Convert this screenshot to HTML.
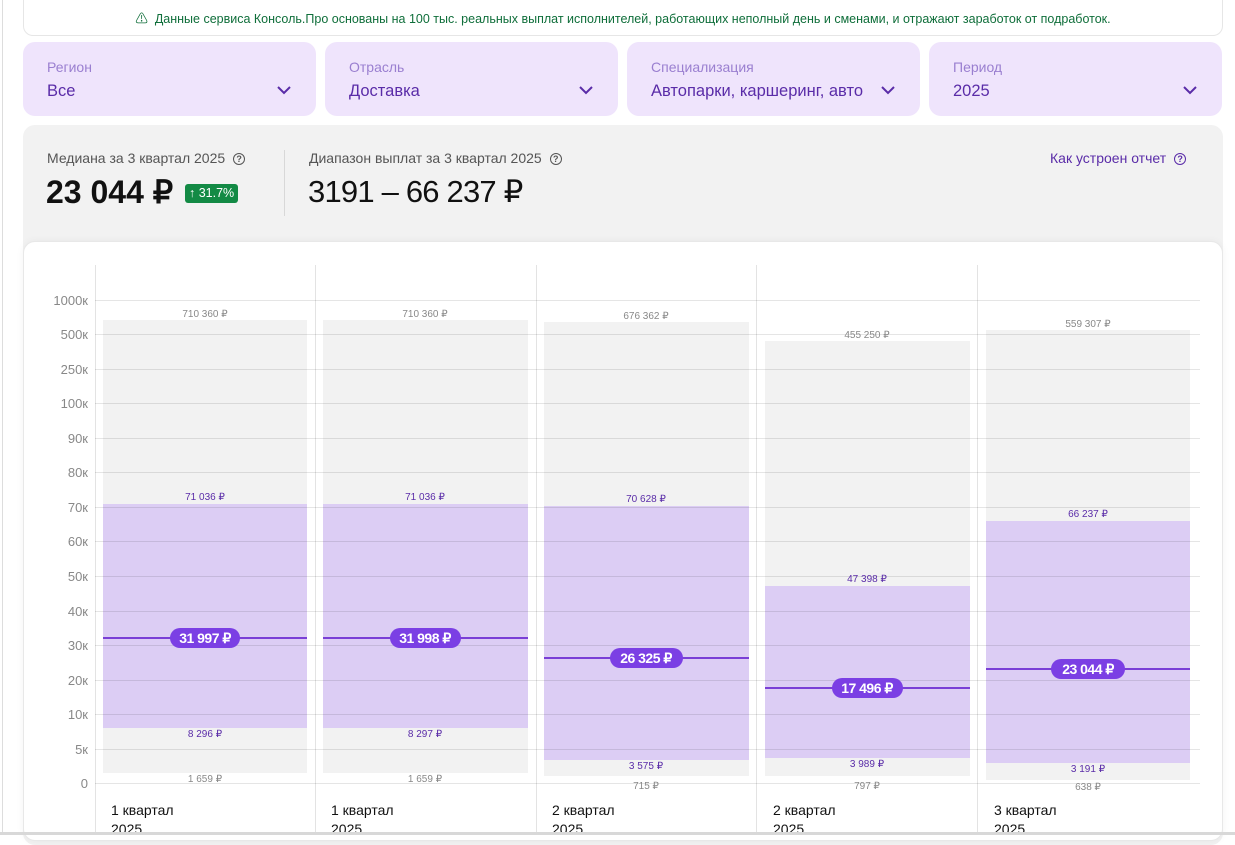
<!DOCTYPE html>
<html><head><meta charset="utf-8"><style>
*{margin:0;padding:0;box-sizing:border-box}
body{width:1235px;height:835px;background:#fff;font-family:"Liberation Sans","Noto Sans CJK SC",sans-serif;position:relative;overflow:hidden}
.a{position:absolute}
.banner{left:23px;top:0;width:1200px;height:36px;border:1px solid #e6e6e6;border-top:none;border-radius:0 0 10px 10px;color:#0f6e3a;font-size:12.5px;text-align:center;line-height:38px}
.f{top:42px;height:74px;width:293px;background:#efe4fc;border-radius:12px}
.f .l{position:absolute;left:24px;top:17px;font-size:14px;color:#9a7fd0}
.f .v{position:absolute;left:24px;top:40px;font-size:16.5px;color:#5a2ca8;white-space:nowrap;overflow:hidden;width:215px}
.f svg{position:absolute;right:24px;top:43px}
.gray{left:23px;top:125px;width:1200px;height:720px;background:#f2f2f2;border-radius:12px}
.card{left:23px;top:241px;width:1200px;height:600px;background:#fff;border-radius:12px;border:1px solid #e8e8e8;box-shadow:0 0 8px rgba(0,0,0,.05)}
.q{display:inline-block;width:12px;height:12px;border:1.3px solid #555;border-radius:50%;font-size:9px;line-height:10px;text-align:center;vertical-align:1px;margin-left:8px;color:#555;font-weight:bold}
</style></head><body>
<div class="a" style="left:2px;top:0;width:1px;height:835px;background:#ddd"></div>
<div class="a banner">⚠&nbsp; Данные сервиса Консоль.Про основаны на 100 тыс. реальных выплат исполнителей, работающих неполный день и сменами, и отражают заработок от подработок.</div>
<div class="a f" style="left:23px"><div class="l">Регион</div><div class="v">Все</div><svg width="16" height="10"><path d="M2 2l6 6 6-6" stroke="#5a2ca8" stroke-width="2" fill="none"/></svg></div>
<div class="a f" style="left:325px"><div class="l">Отрасль</div><div class="v">Доставка</div><svg width="16" height="10"><path d="M2 2l6 6 6-6" stroke="#5a2ca8" stroke-width="2" fill="none"/></svg></div>
<div class="a f" style="left:627px"><div class="l">Специализация</div><div class="v">Автопарки, каршеринг, авто</div><svg width="16" height="10"><path d="M2 2l6 6 6-6" stroke="#5a2ca8" stroke-width="2" fill="none"/></svg></div>
<div class="a f" style="left:929px"><div class="l">Период</div><div class="v">2025</div><svg width="16" height="10"><path d="M2 2l6 6 6-6" stroke="#5a2ca8" stroke-width="2" fill="none"/></svg></div>
<div class="a gray"></div>
<div class="a" style="left:47px;top:150px;font-size:14px;color:#555">Медиана за 3 квартал 2025<span class="q">?</span></div>
<div class="a" style="left:46px;top:173px;font-size:32px;font-weight:bold;color:#111;letter-spacing:0px">23 044 ₽</div>
<div class="a" style="left:185px;top:184px;background:#138a45;color:#fff;font-size:12.5px;padding:1px 4px;border-radius:3px;height:19px;line-height:17px">↑ 31.7%</div>
<div class="a" style="left:284px;top:150px;width:1px;height:66px;background:#d8d8d8"></div>
<div class="a" style="left:309px;top:150px;font-size:14px;color:#555">Диапазон выплат за 3 квартал 2025<span class="q">?</span></div>
<div class="a" style="left:308px;top:174px;font-size:31px;color:#111;letter-spacing:-0.8px">3191 – 66 237 ₽</div>
<div class="a" style="left:1050px;top:150px;font-size:14px;color:#5a2ca8">Как устроен отчет<span class="q" style="border-color:#5a2ca8;color:#5a2ca8">?</span></div>
<div class="a card"></div>
<svg class="a" style="left:0;top:0" width="1235" height="835" font-family="Liberation Sans, sans-serif">
<g stroke="#e3e3e3" stroke-width="1">
<line x1="95.5" y1="265" x2="95.5" y2="835"/><line x1="315.5" y1="265" x2="315.5" y2="835"/><line x1="536.5" y1="265" x2="536.5" y2="835"/><line x1="756.5" y1="265" x2="756.5" y2="835"/><line x1="977.5" y1="265" x2="977.5" y2="835"/>
</g>
<g fill="#f2f2f2">
<rect x="103" y="320" width="204" height="453"/><rect x="323" y="320" width="205" height="453"/><rect x="544" y="322" width="205" height="454"/><rect x="765" y="341" width="205" height="435"/><rect x="986" y="330" width="204" height="450"/>
</g>
<g fill="#dccdf4">
<rect x="103" y="504" width="204" height="224"/><rect x="323" y="504" width="205" height="224"/><rect x="544" y="506" width="205" height="254"/><rect x="765" y="586" width="205" height="172"/><rect x="986" y="521" width="204" height="242"/>
</g>
<g stroke="#000" stroke-opacity="0.1" stroke-width="1">
<line x1="95" y1="300.5" x2="1200" y2="300.5"/><line x1="95" y1="334.5" x2="1200" y2="334.5"/><line x1="95" y1="369.5" x2="1200" y2="369.5"/><line x1="95" y1="403.5" x2="1200" y2="403.5"/><line x1="95" y1="438.5" x2="1200" y2="438.5"/><line x1="95" y1="472.5" x2="1200" y2="472.5"/><line x1="95" y1="507.5" x2="1200" y2="507.5"/><line x1="95" y1="541.5" x2="1200" y2="541.5"/><line x1="95" y1="576.5" x2="1200" y2="576.5"/><line x1="95" y1="611.5" x2="1200" y2="611.5"/><line x1="95" y1="645.5" x2="1200" y2="645.5"/><line x1="95" y1="680.5" x2="1200" y2="680.5"/><line x1="95" y1="714.5" x2="1200" y2="714.5"/><line x1="95" y1="749.5" x2="1200" y2="749.5"/><line x1="95" y1="783.5" x2="1200" y2="783.5"/>
</g>
<g font-size="13" fill="#888" text-anchor="end">
<text x="88" y="305">1000к</text><text x="88" y="339">500к</text><text x="88" y="374">250к</text><text x="88" y="408">100к</text><text x="88" y="443">90к</text><text x="88" y="477">80к</text><text x="88" y="512">70к</text><text x="88" y="546">60к</text><text x="88" y="581">50к</text><text x="88" y="616">40к</text><text x="88" y="650">30к</text><text x="88" y="685">20к</text><text x="88" y="719">10к</text><text x="88" y="754">5к</text><text x="88" y="788">0</text>
</g>
<g stroke="#7a3fd6" stroke-width="2">
<line x1="103" y1="638" x2="307" y2="638"/><line x1="323" y1="638" x2="528" y2="638"/><line x1="544" y1="658" x2="749" y2="658"/><line x1="765" y1="688" x2="970" y2="688"/><line x1="986" y1="669" x2="1190" y2="669"/>
</g>
<g fill="#7b3fe4">
<rect x="170" y="628" width="70" height="20" rx="10"/><rect x="390" y="628" width="71" height="20" rx="10"/><rect x="610" y="648" width="73" height="20" rx="10"/><rect x="832" y="678" width="71" height="20" rx="10"/><rect x="1051" y="659" width="74" height="20" rx="10"/>
</g>
<g font-size="14" font-weight="bold" fill="#fff" text-anchor="middle" letter-spacing="-0.5">
<text x="205" y="643">31 997 ₽</text><text x="425" y="643">31 998 ₽</text><text x="646" y="663">26 325 ₽</text><text x="867" y="693">17 496 ₽</text><text x="1088" y="674">23 044 ₽</text>
</g>
<g font-size="10" fill="#888" text-anchor="middle">
<text x="205" y="317">710 360 ₽</text><text x="425" y="317">710 360 ₽</text><text x="646" y="319">676 362 ₽</text><text x="867" y="338">455 250 ₽</text><text x="1088" y="327">559 307 ₽</text>
<text x="205" y="782">1 659 ₽</text><text x="425" y="782">1 659 ₽</text><text x="646" y="789">715 ₽</text><text x="867" y="789">797 ₽</text><text x="1088" y="790">638 ₽</text>
</g>
<g font-size="10" fill="#5a2ca8" text-anchor="middle">
<text x="205" y="500">71 036 ₽</text><text x="425" y="500">71 036 ₽</text><text x="646" y="502">70 628 ₽</text><text x="867" y="582">47 398 ₽</text><text x="1088" y="517">66 237 ₽</text>
<text x="205" y="737">8 296 ₽</text><text x="425" y="737">8 297 ₽</text><text x="646" y="769">3 575 ₽</text><text x="867" y="767">3 989 ₽</text><text x="1088" y="772">3 191 ₽</text>
</g>
<g font-size="14" fill="#111">
<text x="111" y="815">1 квартал</text><text x="111" y="834">2025</text>
<text x="331" y="815">1 квартал</text><text x="331" y="834">2025</text>
<text x="552" y="815">2 квартал</text><text x="552" y="834">2025</text>
<text x="773" y="815">2 квартал</text><text x="773" y="834">2025</text>
<text x="994" y="815">3 квартал</text><text x="994" y="834">2025</text>
</g>
<rect x="0" y="832" width="1235" height="3" fill="#d8d8d8"/>
</svg>
</body></html>
